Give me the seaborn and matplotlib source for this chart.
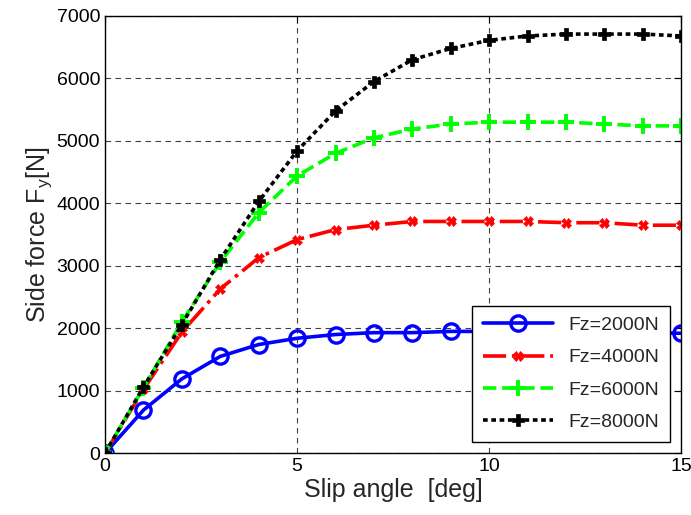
import matplotlib
matplotlib.use("Agg")
import matplotlib.pyplot as plt
import seaborn as sns
import pandas as pd

# slip angle in degrees
slip = list(range(16))

# side force in N for each vertical load
fy_2000 = [0, 690, 1190, 1550, 1740, 1840, 1900, 1930, 1930, 1950, 1950, 1950, 1950, 1940, 1930, 1920]
fy_4000 = [0, 1020, 1940, 2630, 3130, 3420, 3580, 3650, 3710, 3710, 3710, 3710, 3690, 3690, 3650, 3650]
fy_6000 = [0, 1050, 2100, 3060, 3850, 4440, 4800, 5050, 5190, 5270, 5300, 5300, 5300, 5270, 5240, 5240]
fy_8000 = [0, 1060, 2060, 3100, 4030, 4840, 5480, 5950, 6300, 6480, 6610, 6680, 6710, 6710, 6710, 6680]

labels = ["Fz=2000N", "Fz=4000N", "Fz=6000N", "Fz=8000N"]

sns.set_style("white")
plt.rcParams["font.family"] = ["Liberation Sans", "DejaVu Sans"]

fig = plt.figure(figsize=(6.91, 5.15), dpi=100)
ax = fig.add_axes([0.152, 0.120, 0.834, 0.849])

series = [
    (fy_2000, dict(color="#0000ff", linestyle="-", marker="o", markersize=11,
                   markerfacecolor="none", markeredgecolor="#0000ff", markeredgewidth=2.4)),
    (fy_4000, dict(color="#ff0000", linestyle="-.", marker="X", markersize=7,
                   markerfacecolor="#ff0000", markeredgecolor="#ff0000", markeredgewidth=0.5)),
    (fy_6000, dict(color="#00ff00", linestyle="--", marker="+", markersize=12,
                   markeredgecolor="#00ff00", markeredgewidth=2.8)),
    (fy_8000, dict(color="black", linestyle=(0, (1.3, 1.0)), marker="P", markersize=9,
                   markerfacecolor="black", markeredgecolor="black", markeredgewidth=0.5)),
]

for (vals, style), lab in zip(series, labels):
    df = pd.DataFrame({"slip": slip, "fy": vals})
    sns.lineplot(data=df, x="slip", y="fy", ax=ax, label=lab, linewidth=2.6, **style)

ax.set_xlim(0, 15)
ax.set_ylim(0, 7000)
ax.set_xticks([0, 5, 10, 15])
ax.set_yticks(range(0, 7001, 1000))
ax.grid(True, color="black", linestyle=(0, (5, 4)), linewidth=0.8, alpha=0.75)
ax.tick_params(direction="in", top=True, right=True, length=5, width=0.8,
               labelsize=14, colors="black")
for s in ax.spines.values():
    s.set_color("black")
    s.set_linewidth(1.0)

ax.set_xlabel("Slip angle  [deg]", fontsize=18, labelpad=2)
ax.set_ylabel(r"Side force F$_\mathregular{y}$[N]", fontsize=18, labelpad=2)

leg = ax.legend(loc="lower right", fontsize=14, handlelength=3.6, frameon=True,
                fancybox=False, edgecolor="black", framealpha=1.0, borderaxespad=0.6,
                labelspacing=0.75, borderpad=0.55, numpoints=1)
leg.get_frame().set_linewidth(1.0)

fig.savefig("out.png", dpi=100)
